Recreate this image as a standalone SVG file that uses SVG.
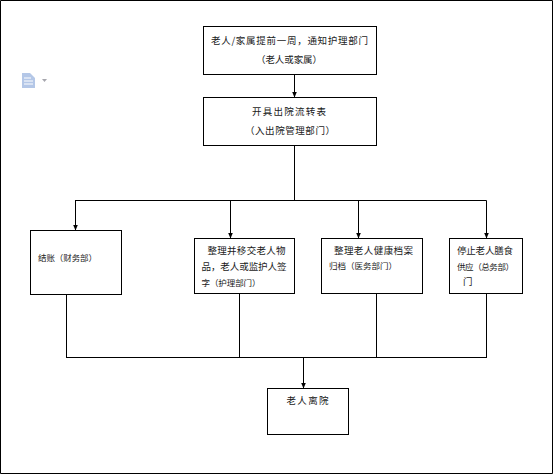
<svg xmlns="http://www.w3.org/2000/svg" width="554" height="474" viewBox="0 0 554 474">
<defs>
<marker id="arrow" markerUnits="userSpaceOnUse" markerWidth="6" markerHeight="5" refX="5.500" refY="2.500" orient="auto"><path d="M0 0L6 2.500L0 5z" fill="#000"/></marker>
</defs>
<style>
.box{fill:#fff;stroke:#000;stroke-width:1}
.line{fill:none;stroke:#000;stroke-width:1}
.arr{fill:none;stroke:#000;stroke-width:1;marker-end:url(#arrow)}
text{font-family:"Noto Sans CJK SC","Liberation Sans",sans-serif;font-size:9.500px;fill:#1a1a1a}
.s{font-size:8.500px}
</style>
<rect width="554" height="474" fill="#fff"/>
<g id="frame"><path d="M0.500 0.500H552.500V473.500H0.500Z" class="line"/></g>
<g id="doc-icon">
<path d="M22 73H30L35 78V88H22Z" fill="#b4c7e7"/>
<path d="M24 78H31M24 81H33M24 84H33" stroke="#fff" stroke-width="1" fill="none"/>
<path d="M42 79H47L44.500 82Z" fill="#a6a6ad"/>
</g>
<g id="connectors">
<path class="arr" d="M294.500 74V97"/>
<path class="line" d="M294.500 145V200.500"/>
<path class="line" d="M75 200.500H486.500"/>
<path class="arr" d="M75.500 200.500V230"/>
<path class="arr" d="M230.500 200.500V238"/>
<path class="arr" d="M358.500 200.500V238"/>
<path class="arr" d="M486.500 200.500V238"/>
<path class="line" d="M66.500 294V358"/>
<path class="line" d="M239.500 293V358"/>
<path class="line" d="M376.500 293V358"/>
<path class="line" d="M486.500 293V358"/>
<path class="line" d="M66.500 357.500H486.500"/>
<path class="arr" d="M303.500 357V388"/>
</g>
<g id="n1"><rect class="box" x="203.500" y="26.500" width="173" height="48"/>
<text x="211" y="44" textLength="157">老人/家属提前一周，通知护理部门</text>
<text x="256" y="63" textLength="66">（老人或家属）</text></g>
<g id="n2"><rect class="box" x="203.500" y="97.500" width="173" height="48"/>
<text x="252" y="115" textLength="74">开具出院流转表</text>
<text x="245" y="134" textLength="90">（入出院管理部门）</text></g>
<g id="n3"><rect class="box" x="30.500" y="230.500" width="91" height="64"/>
<text class="s" x="38" y="261" textLength="59">结账（财务部）</text></g>
<g id="n4"><rect class="box" x="194.500" y="238.500" width="100" height="55"/>
<text x="207.500" y="254" textLength="78">整理并移交老人物</text>
<text x="201.500" y="270" textLength="85">品，老人或监护人签</text>
<text class="s" x="201.500" y="286" textLength="59">字（护理部门）</text></g>
<g id="n5"><rect class="box" x="321.500" y="238.500" width="101" height="55"/>
<text x="334" y="254" textLength="79">整理老人健康档案</text>
<text class="s" x="329" y="269" textLength="68">归档（医务部门）</text></g>
<g id="n6"><rect class="box" x="449.500" y="238.500" width="73" height="55"/>
<text x="457" y="254" textLength="56">停止老人膳食</text>
<text class="s" x="457" y="270" textLength="57">供应（总务部）</text>
<text x="463" y="285">门</text></g>
<g id="n7"><rect class="box" x="267.500" y="388.500" width="81" height="46"/>
<text x="286.500" y="404" textLength="42">老人离院</text></g>
</svg>
